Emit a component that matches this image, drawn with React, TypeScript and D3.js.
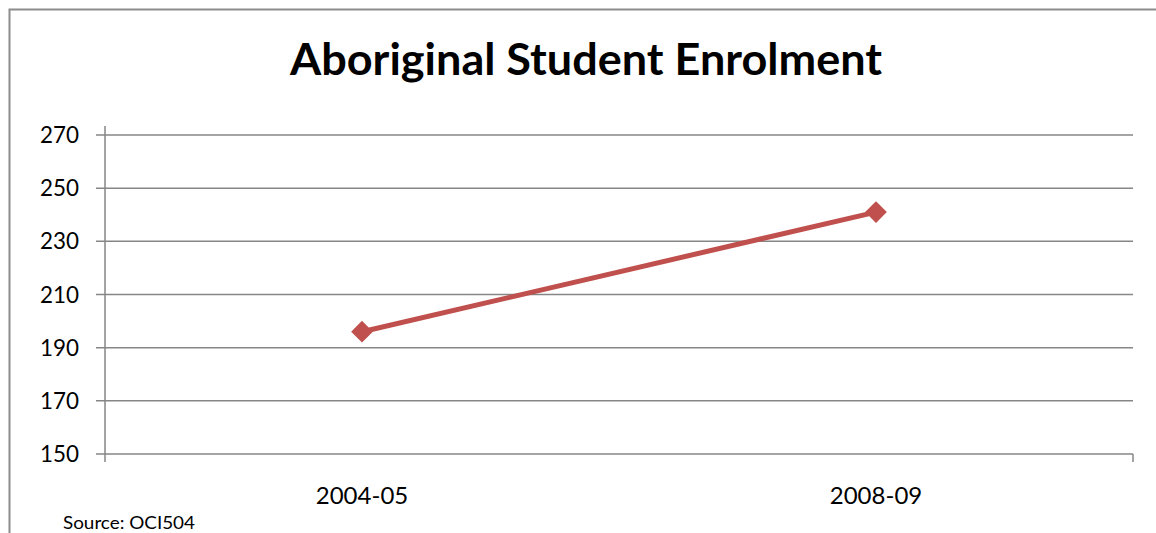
import React from "react";
import * as d3 from "d3";

const categories = ["2004-05", "2008-09"];
const enrolment = [196, 241];
const yTicks = [150, 170, 190, 210, 230, 250, 270];
const title = "Aboriginal Student Enrolment";
const source = "Source: OCI504";

export default function App() {
  const W = 1156, H = 533;
  const left = 105, right = 1133, top = 135, bottom = 454;
  const x = d3.scaleBand<string>().domain(categories).range([left, right]).padding(0);
  const y = d3.scaleLinear().domain([150, 270]).range([bottom, top]);
  const pts = categories.map((c, i) => [x(c)! + x.bandwidth() / 2, y(enrolment[i])] as [number, number]);
  const line = d3.line()(pts) || "";
  const grid = "#868686";
  const font = "Lato, 'Open Sans', sans-serif";
  return (
    <svg width={W} height={H} style={{ position: "absolute", left: 0, top: 0 }}>
      <rect x={0} y={0} width={W} height={H} fill="#fff" />
      <rect x={9.5} y={9.5} width={W + 20} height={H + 20} fill="none" stroke="#8c8c8c" strokeWidth={2} />
      <text x={586} y={75} textAnchor="middle" fontFamily={font} fontWeight={700} fontSize={44} textLength={592} lengthAdjust="spacingAndGlyphs" fill="#000">{title}</text>
      {yTicks.map(t => (
        <g key={t}>
          <line x1={96} x2={right} y1={y(t)} y2={y(t)} stroke={grid} strokeWidth={1.5} />
          <text x={79} y={y(t) + 8} textAnchor="end" fontFamily={font} fontSize={24} textLength={39} lengthAdjust="spacingAndGlyphs" fill="#000">{t}</text>
        </g>
      ))}
      <line x1={left} x2={left} y1={top - 9} y2={bottom + 8} stroke={grid} strokeWidth={1.5} />
      <line x1={right} x2={right} y1={bottom} y2={bottom + 8} stroke={grid} strokeWidth={1.5} />
      {categories.map(c => (
        <text key={c} x={x(c)! + x.bandwidth() / 2} y={504} textAnchor="middle" fontFamily={font} fontSize={24} fill="#000">{c}</text>
      ))}
      <path d={line} fill="none" stroke="#C0504D" strokeWidth={5} />
      {pts.map((p, i) => (
        <path key={i} d={d3.symbol(d3.symbolDiamond2, 300)()!} transform={`translate(${p[0]},${p[1]})`} fill="#C0504D" />
      ))}
      <text x={63} y={529} fontFamily={font} fontSize={17} textLength={132} lengthAdjust="spacingAndGlyphs" fill="#000">{source}</text>
    </svg>
  );
}
